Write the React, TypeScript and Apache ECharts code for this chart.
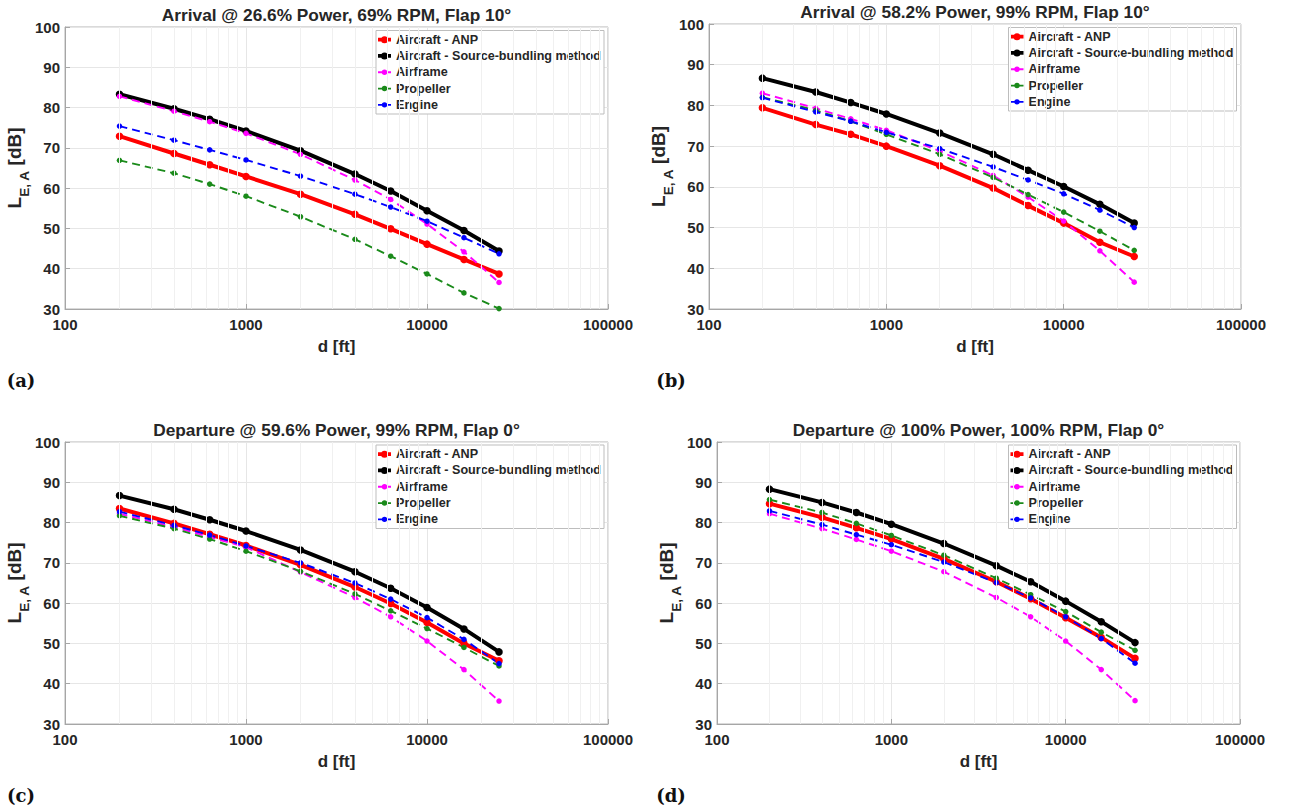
import React, { useEffect, useRef } from "react";
import * as echarts from "echarts";

// Distances (ft) of the NPD points
const distances = [200, 400, 630, 1000, 2000, 4000, 6300, 10000, 16000, 25000];

// Minor log grid positions
const minorGrid = [200, 300, 400, 500, 600, 700, 800, 900, 2000, 3000, 4000, 5000, 6000, 7000, 8000, 9000, 20000, 30000, 40000, 50000, 60000, 70000, 80000, 90000];

const seriesNames = ["Aircraft - ANP", "Aircraft - Source-bundling method", "Airframe", "Propeller", "Engine"];

// (a) Arrival @ 26.6% Power
const anpA = [72.9, 68.6, 65.8, 62.9, 58.5, 53.5, 49.9, 46.1, 42.3, 38.7];
const sbmA = [83.3, 79.7, 77.1, 74.2, 69.3, 63.5, 59.3, 54.4, 49.5, 44.4];
const airA = [82.8, 79.1, 76.5, 73.6, 68.4, 62.0, 57.2, 51.1, 44.2, 36.6];
const propA = [66.9, 63.7, 61.0, 58.0, 52.9, 47.3, 43.1, 38.7, 34.0, 30.1];
const engA = [75.4, 71.9, 69.5, 67.0, 63.0, 58.5, 55.3, 51.8, 47.7, 43.7];

// (b) Arrival @ 58.2% Power
const anpB = [79.4, 75.3, 72.9, 70.0, 65.2, 59.7, 55.4, 51.1, 46.4, 42.9];
const sbmB = [86.7, 83.3, 80.7, 77.9, 73.2, 68.0, 64.1, 60.1, 55.7, 51.1];
const airB = [83.0, 79.3, 76.7, 73.9, 68.8, 62.8, 57.5, 51.6, 44.3, 36.6];
const propB = [82.0, 78.8, 76.1, 72.9, 68.0, 62.3, 58.1, 53.8, 49.1, 44.4];
const engB = [81.9, 78.4, 76.1, 73.4, 69.4, 64.9, 61.7, 58.3, 54.3, 50.0];

// (c) Departure @ 59.6% Power
const anpC = [83.5, 79.8, 77.1, 74.3, 69.5, 64.0, 59.9, 55.2, 50.0, 45.7];
const sbmC = [86.7, 83.3, 80.7, 77.9, 73.2, 67.8, 63.7, 58.9, 53.6, 47.9];
const airC = [82.2, 78.9, 76.4, 73.9, 67.7, 61.4, 56.6, 50.6, 43.5, 35.7];
const propC = [81.7, 78.5, 75.9, 72.9, 67.9, 62.3, 58.1, 53.7, 49.0, 44.4];
const engC = [82.7, 79.3, 76.9, 74.2, 70.0, 65.0, 61.0, 56.4, 51.0, 45.0];

// (d) Departure @ 100% Power
const anpD = [84.7, 81.3, 78.7, 75.9, 71.0, 65.3, 61.1, 56.4, 51.5, 46.3];
const sbmD = [88.3, 85.0, 82.5, 79.6, 74.8, 69.3, 65.3, 60.5, 55.4, 50.2];
const airD = [82.2, 78.5, 75.8, 72.9, 67.8, 61.4, 56.6, 50.6, 43.5, 35.8];
const propD = [85.7, 82.5, 79.8, 76.8, 71.9, 66.2, 62.1, 57.9, 52.8, 48.3];
const engD = [82.9, 79.5, 77.0, 74.5, 70.2, 65.1, 61.3, 56.6, 51.2, 45.1];

const titles = [
  "Arrival @ 26.6% Power, 69% RPM, Flap 10°",
  "Arrival @ 58.2% Power, 99% RPM, Flap 10°",
  "Departure @ 59.6% Power, 99% RPM, Flap 0°",
  "Departure @ 100% Power, 100% RPM, Flap 0°",
];
const tags = ["(a)", "(b)", "(c)", "(d)"];

const panelData = [
  [anpA, sbmA, airA, propA, engA],
  [anpB, sbmB, airB, propB, engB],
  [anpC, sbmC, airC, propC, engC],
  [anpD, sbmD, airD, propD, engD],
];

const colors = ["#ff0000", "#000000", "#ff00ff", "#1a8a1a", "#0000ff"];

const grids = [
  { left: 65, top: 27, width: 543, height: 282 },
  { left: 709, top: 24, width: 532, height: 285 },
  { left: 65, top: 442, width: 543, height: 282 },
  { left: 717, top: 442, width: 523, height: 282 },
];
const legendPos = [
  { right: 691, top: 30.5 },
  { right: 58.5, top: 27.5 },
  { right: 691, top: 445 },
  { right: 58.5, top: 445 },
];
const titlePos = [
  { x: 336.5, y: 15 },
  { x: 975, y: 12 },
  { x: 336.5, y: 430 },
  { x: 978.5, y: 430 },
];
const tagPos = [
  { x: 21, y: 380 },
  { x: 671, y: 380 },
  { x: 21, y: 795 },
  { x: 671, y: 795 },
];

const FONT = "'Liberation Sans', Arial, sans-serif";
const TXT = "#262626";

// legend icons: line segment with a dot
const ICON_MAIN = "path://M0,2.1H13V5.9H0Z M3,4A3.5,3.5 0 1,1 10,4A3.5,3.5 0 1,1 3,4Z";
const ICON_DASH = "path://M0,3.1H13V4.9H0Z M3.8,4A2.7,2.7 0 1,1 9.2,4A2.7,2.7 0 1,1 3.8,4Z";

function buildOption() {
  const gridOpts: any[] = [];
  const xAxes: any[] = [];
  const yAxes: any[] = [];
  const series: any[] = [];
  const legends: any[] = [];
  const graphics: any[] = [];

  grids.forEach((g, i) => {
    gridOpts.push({
      ...g,
      show: true,
      borderColor: "#b5b5b5",
      borderWidth: 1,
      backgroundColor: "#ffffff",
      containLabel: false,
    });
    xAxes.push({
      type: "log",
      logBase: 10,
      gridIndex: i,
      min: 100,
      max: 100000,
      splitNumber: 3,
      name: "d [ft]",
      nameLocation: "middle",
      nameGap: 29,
      nameTextStyle: { fontFamily: FONT, fontWeight: "bold", fontSize: 17, color: TXT },
      axisLine: { show: true, lineStyle: { color: "#a6a6a6" } },
      axisTick: { show: true, inside: true, length: 5, lineStyle: { color: "#a6a6a6" } },
      axisLabel: {
        fontFamily: FONT,
        fontWeight: "bold",
        fontSize: 15,
        color: TXT,
        margin: 8,
        formatter: (v: number) => String(Math.round(v)),
      },
      splitLine: { show: true, lineStyle: { color: "#e6e6e6", width: 1 } },
    });
    yAxes.push({
      type: "value",
      gridIndex: i,
      min: 30,
      max: 100,
      interval: 10,
      name: "{l|L}{s|E, A}{l| [dB]}",
      nameLocation: "middle",
      nameRotate: 90,
      nameGap: 34,
      nameTextStyle: {
        fontFamily: FONT,
        fontWeight: "bold",
        color: TXT,
        rich: {
          l: { fontFamily: FONT, fontWeight: "bold", fontSize: 19, color: TXT, lineHeight: 19, verticalAlign: "top" },
          s: { fontFamily: FONT, fontWeight: "bold", fontSize: 13.5, color: TXT, lineHeight: 13.5, verticalAlign: "top", padding: [12.5, 0, 0, 0] },
        },
      },
      axisLine: { show: true, lineStyle: { color: "#a6a6a6" } },
      axisTick: { show: true, inside: true, length: 5, lineStyle: { color: "#a6a6a6" } },
      axisLabel: { fontFamily: FONT, fontWeight: "bold", fontSize: 15, color: TXT, margin: 5 },
      splitLine: { show: true, lineStyle: { color: "#e6e6e6", width: 1 } },
    });

    // minor log grid lines
    series.push({
      type: "line",
      name: "minor-grid-" + i,
      xAxisIndex: i,
      yAxisIndex: i,
      data: [],
      z: 0,
      silent: true,
      markLine: {
        silent: true,
        symbol: ["none", "none"],
        label: { show: false },
        lineStyle: { color: "#f0f0f0", width: 1, type: "solid" },
        data: minorGrid.map((v) => ({ xAxis: v })),
      },
    });

    panelData[i].forEach((vals, k) => {
      const main = k < 2;
      series.push({
        type: "line",
        name: seriesNames[k],
        xAxisIndex: i,
        yAxisIndex: i,
        data: distances.map((d, j) => [d, vals[j]]),
        symbol: "circle",
        symbolSize: main ? 7.5 : 5.5,
        showSymbol: true,
        z: 3,
        color: colors[k],
        itemStyle: { color: colors[k] },
        lineStyle: {
          color: colors[k],
          width: main ? 4 : 1.9,
          type: main ? "solid" : [8, 5],
        },
      });
    });

    legends.push({
      ...legendPos[i],
      orient: "vertical",
      data: seriesNames.map((n, k) => ({ name: n, icon: k < 2 ? ICON_MAIN : ICON_DASH })),
      backgroundColor: "#ffffff",
      borderColor: "#bdbdbd",
      borderWidth: 1,
      borderRadius: 0,
      padding: [2, 3, 2, 2],
      itemGap: 2,
      itemWidth: 13,
      itemHeight: 8,
      symbolKeepAspect: true,
      selectedMode: false,
      textStyle: { fontFamily: FONT, fontWeight: "bold", fontSize: 12.6, color: TXT, lineHeight: 14.3 },
    });

    graphics.push({
      type: "text",
      x: titlePos[i].x,
      y: titlePos[i].y,
      style: {
        text: titles[i],
        fontFamily: FONT,
        fontWeight: "bold",
        fontSize: 17.3,
        fill: TXT,
        textAlign: "center",
        textVerticalAlign: "middle",
      },
    });
    graphics.push({
      type: "text",
      x: tagPos[i].x,
      y: tagPos[i].y,
      style: {
        text: tags[i],
        fontFamily: "'DejaVu Serif', serif",
        fontWeight: "bold",
        fontSize: 18,
        fill: "#111111",
        textAlign: "center",
        textVerticalAlign: "middle",
      },
    });
  });

  return {
    animation: false,
    backgroundColor: "#ffffff",
    grid: gridOpts,
    xAxis: xAxes,
    yAxis: yAxes,
    legend: legends,
    series,
    graphic: graphics,
  };
}

export default function App() {
  const ref = useRef<HTMLDivElement>(null);
  useEffect(() => {
    if (!ref.current) return;
    const chart = echarts.init(ref.current, undefined, { renderer: "svg" });
    chart.setOption(buildOption() as any);
    return () => chart.dispose();
  }, []);
  return (
    <div
      ref={ref}
      style={{ position: "fixed", left: 0, top: 0, width: 1295, height: 808, background: "#fff" }}
    />
  );
}
